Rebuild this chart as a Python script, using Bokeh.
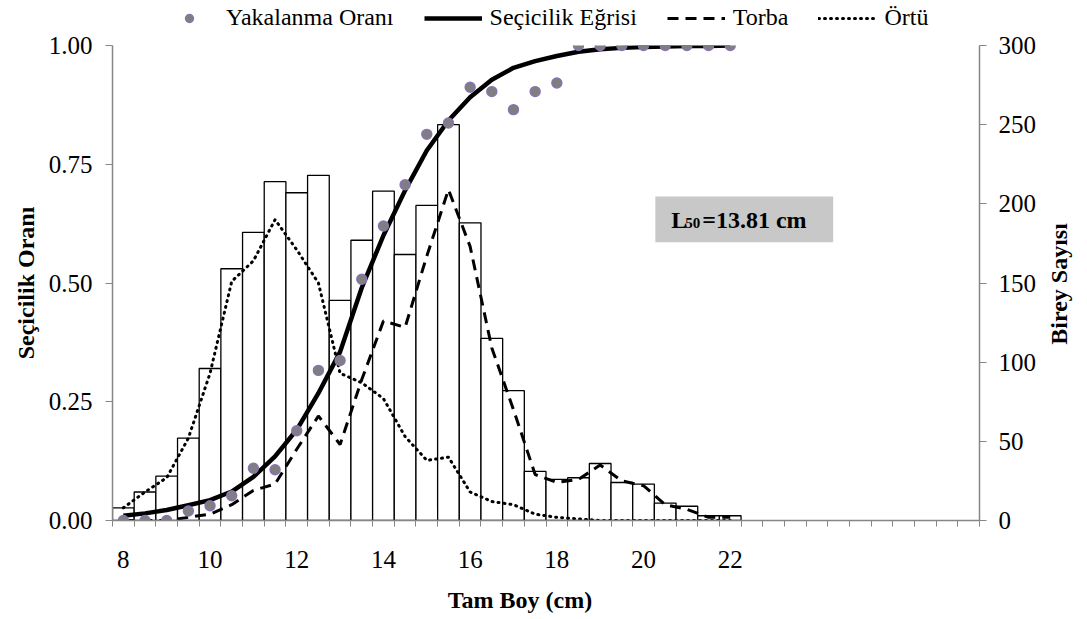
from bokeh.plotting import figure
from bokeh.layouts import column
from bokeh.models import (Range1d, LinearAxis, FixedTicker, NumeralTickFormatter,
                          Legend, LegendItem, BoxAnnotation, Label, ColumnDataSource)
from bokeh.embed import file_html
from bokeh.resources import INLINE

# Length classes (cm) and counts per class
boy = [8.0, 8.5, 9.0, 9.5, 10.0, 10.5, 11.0, 11.5, 12.0, 12.5, 13.0, 13.5, 14.0, 14.5,
       15.0, 15.5, 16.0, 16.5, 17.0, 17.5, 18.0, 18.5, 19.0, 19.5, 20.0, 20.5, 21.0, 21.5, 22.0]
toplam = [8, 18, 28, 52, 96, 159, 182, 214, 207, 218, 139, 177, 208, 168,
          199, 250, 188, 115, 82, 31, 26, 27, 36, 24, 23, 11, 9, 3, 3]
torba = [0, 0, 0, 2, 4, 10, 19, 23, 45, 66, 48, 89, 126, 122,
         167, 209, 173, 109, 70, 29, 24, 26, 35, 25, 22, 10, 7, 2, 2]
ortu = [8, 18, 27, 52, 93, 151, 164, 190, 171, 150, 93, 87, 77, 53,
        38, 40, 18, 12, 10, 4, 2, 1, 0, 0, 0, 0, 0, 0, 0]
# Retention ratio per class and fitted selectivity curve
yakalanma = [0, 0, 0, 0.020, 0.031, 0.052, 0.110, 0.107, 0.189, 0.316, 0.337, 0.508, 0.620, 0.707,
             0.813, 0.837, 0.912, 0.903, 0.865, 0.903, 0.921, 1, 1, 1, 1, 1, 1, 1, 1]
secicilik = [0.010, 0.015, 0.022, 0.032, 0.043, 0.061, 0.092, 0.135, 0.191, 0.268, 0.355, 0.49, 0.60, 0.695,
             0.779, 0.842, 0.891, 0.928, 0.953, 0.967, 0.978, 0.987, 0.992, 0.995, 0.997, 0.998, 0.999, 0.999, 1.0]

x_etiketleri = [8, 10, 12, 14, 16, 18, 20, 22]
sol_tikler = [0, 0.25, 0.5, 0.75, 1.0]
sag_tikler = [0, 50, 100, 150, 200, 250, 300]
seri_adlari = ["Yakalanma Oranı", "Seçicilik Eğrisi", "Torba", "Örtü"]

FONT = "Liberation Serif"
AXIS_GRAY = "#868686"

# Shared styles for each series
DOT = dict(size=10, fill_color="#7f7f7f", line_color="#8a72b4", line_width=1.4)
CURVE = dict(line_color="black", line_width=4.5, line_join="round")
DASHED = dict(line_color="black", line_width=3, line_dash="11 7")
DOTTED = dict(line_color="black", line_width=3, line_dash="1 5", line_cap="round")
TITLE_TEXT = dict(major_label_text_font=FONT, major_label_text_font_size="24px",
                  major_label_text_font_style="bold", major_label_text_color="black",
                  axis_line_color=None, major_tick_line_color=None, minor_tick_line_color=None,
                  major_tick_out=0, major_tick_in=0, minor_tick_out=0, minor_tick_in=0)

src = ColumnDataSource(dict(boy=boy, toplam=toplam, torba=torba, ortu=ortu,
                            yakalanma=yakalanma, secicilik=secicilik))

p = figure(width=1087, height=586, x_range=Range1d(7.75, 27.75), y_range=Range1d(0, 1),
           output_backend="svg", toolbar_location=None,
           min_border_left=112, min_border_right=104, min_border_top=12, min_border_bottom=99)
p.extra_y_ranges = {"adet": Range1d(0, 300)}
p.xgrid.visible = False
p.ygrid.visible = False
p.outline_line_color = None
p.background_fill_color = "white"
p.border_fill_color = "white"

# Histogram of total counts (right axis)
p.vbar(x="boy", top="toplam", width=0.5, source=src, y_range_name="adet",
       fill_color="white", line_color="black", line_width=1.3)

p.line("boy", "ortu", source=src, y_range_name="adet", **DOTTED)
p.line("boy", "torba", source=src, y_range_name="adet", **DASHED)
p.line("boy", "secicilik", source=src, **CURVE)
p.scatter("boy", "yakalanma", source=src, **DOT)

# Axes
xa = p.xaxis[0]
xa.ticker = FixedTicker(ticks=x_etiketleri, minor_ticks=[7.75 + 0.5 * k for k in range(41)])
xa.major_tick_out = 0
xa.major_tick_in = 0
xa.minor_tick_out = 6
xa.minor_tick_in = 0
xa.minor_tick_line_color = AXIS_GRAY
xa.axis_line_color = AXIS_GRAY
xa.axis_line_width = 1.5
xa.major_label_text_font = FONT
xa.major_label_text_font_size = "25px"
xa.major_label_text_color = "black"
xa.major_label_standoff = 24

# x title, set slightly left of the frame centre
xt = LinearAxis(ticker=FixedTicker(ticks=[17.15], minor_ticks=[]),
                major_label_overrides={17.15: "Tam Boy (cm)"}, major_label_standoff=16,
                **TITLE_TEXT)
p.add_layout(xt, "below")

ya = p.yaxis[0]
ya.ticker = FixedTicker(ticks=sol_tikler, minor_ticks=[])
ya.formatter = NumeralTickFormatter(format="0.00")
ya.axis_label = "Seçicilik Oranı"
ya.axis_label_text_font = FONT
ya.axis_label_text_font_size = "24px"
ya.axis_label_text_font_style = "bold"
ya.axis_label_text_color = "black"
ya.axis_label_standoff = 7

ra = LinearAxis(y_range_name="adet", ticker=FixedTicker(ticks=sag_tikler, minor_ticks=[]))
p.add_layout(ra, "right")

for ax in (ya, ra):
    ax.major_tick_out = 7
    ax.major_tick_in = 0
    ax.minor_tick_out = 0
    ax.minor_tick_in = 0
    ax.major_tick_line_color = AXIS_GRAY
    ax.axis_line_color = AXIS_GRAY
    ax.axis_line_width = 1.5
    ax.major_label_text_font = FONT
    ax.major_label_text_font_size = "25px"
    ax.major_label_text_color = "black"
    ax.major_label_standoff = 13
ra.major_label_standoff = 12

# Right-hand title, reading bottom to top like the left one
ta = LinearAxis(y_range_name="adet", ticker=FixedTicker(ticks=[111], minor_ticks=[]),
                major_label_overrides={111: "Birey Sayısı"}, major_label_orientation=1.5707963,
                major_label_standoff=19, **TITLE_TEXT)
p.add_layout(ta, "right")

# L50 box
p.add_layout(BoxAnnotation(left=20.272, right=24.375, bottom=0.586, top=0.682,
                           fill_color="#c8c8c8", fill_alpha=1, line_color=None))
for txt, dx, dy, size in (("L", 0, 0, "24px"), ("50", 14, -3, "15px"), ("=13.81 cm", 31, 0, "24px")):
    p.add_layout(Label(x=20.639, y=0.6316, x_offset=dx, y_offset=dy, text=txt, text_font=FONT,
                       text_font_size=size, text_font_style="bold", text_color="black",
                       text_baseline="middle"))

# Legend strip above the chart; its key renderers sit outside the visible range
lf = figure(width=1087, height=33, x_range=Range1d(0, 1), y_range=Range1d(0, 1),
            output_backend="svg", toolbar_location=None,
            x_axis_location=None, y_axis_location=None,
            min_border_left=0, min_border_right=0, min_border_top=0, min_border_bottom=0)
lf.xgrid.visible = False
lf.ygrid.visible = False
lf.outline_line_color = None
gizli = dict(x=[5, 6], y=[5, 5])
k_yak = lf.scatter(**gizli, **DOT)
k_sec = lf.line(**gizli, **CURVE)
k_tor = lf.line(**gizli, **DASHED)
k_ort = lf.line(**gizli, **DOTTED)
legend = Legend(items=[LegendItem(label=ad, renderers=[r])
                       for ad, r in zip(seri_adlari, [k_yak, k_sec, k_tor, k_ort])],
                location=(48, 2), orientation="horizontal", glyph_width=58, glyph_height=20,
                label_standoff=8, spacing=30, padding=0, margin=0,
                border_line_color=None, background_fill_alpha=0,
                label_text_font=FONT, label_text_font_size="24px", label_text_color="black")
lf.add_layout(legend)

open("out.html", "w").write(file_html(column(lf, p, spacing=0), INLINE))
